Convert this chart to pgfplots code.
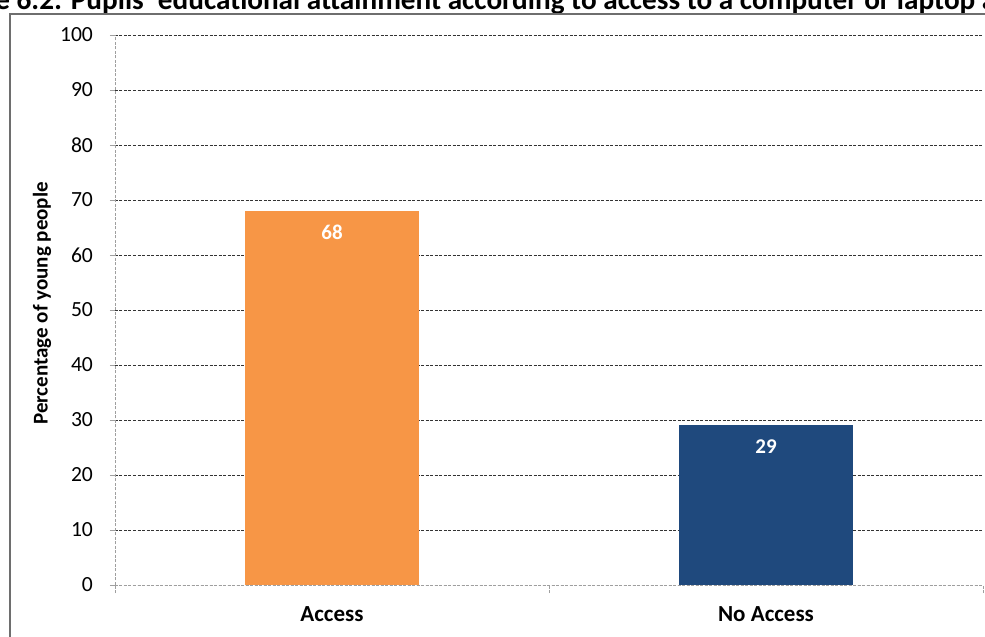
\documentclass[border=0pt]{standalone}
\usepackage{pgfplots}
\pgfplotsset{compat=1.18}
\usepackage{fontspec}
\setmainfont{Carlito}
\definecolor{barorange}{HTML}{F79646}
\definecolor{barblue}{HTML}{1F497D}
\definecolor{framegray}{HTML}{6E6E6E}
\begin{document}
\begin{tikzpicture}
\useasboundingbox (0,0) rectangle (492.5pt,318.5pt);
\clip (0,0) rectangle (492.5pt,318.5pt);
\node[anchor=base west, inner sep=0pt, font=\bfseries\fontsize{14.6}{17}\selectfont] at (-2.5pt,313.5pt)
  {\llap{Figur}e 6.2: Pupils' educational attainment according to access to a computer or laptop at home};
\draw[framegray, line width=1pt] (4.75pt,-10pt) -- (4.75pt,311.5pt) -- (520pt,311.5pt);
\begin{axis}[
  at={(57.5pt,26pt)}, anchor=south west,
  scale only axis, width=434pt, height=275pt,
  xmin=0, xmax=2, ymin=0, ymax=100,
  axis x line*=bottom, axis y line*=left,
  axis line style={gray!75, dash pattern=on 1.5pt off 0.75pt, line width=0.45pt, -},
  ytick={0,10,...,100},
  ymajorgrids,
  major grid style={black!80, dash pattern=on 1.5pt off 0.75pt, line width=0.45pt},
  xtick={0.5,1.5},
  xticklabels={Access, No Access},
  major x tick style={draw=none},
  minor xtick={0,1,2},
  minor x tick style={gray!75, dash pattern=on 1.5pt off 0.75pt, line width=0.45pt},
  minor tick length=4pt,
  major tick length=2.5pt,
  y tick style={gray!75, line width=0.45pt},
  tick align=outside,
  /pgf/number format/assume math mode=true,
  yticklabel style={font=\fontsize{10.8}{12}\selectfont, xshift=-5pt},
  xticklabel style={font=\bfseries\fontsize{11.5}{13}\selectfont, yshift=-5pt},
  ylabel={Percentage of young people},
  ylabel style={font=\bfseries\fontsize{10.5}{12}\selectfont, at={(axis description cs:-0.0841,0.512)}, anchor=center},
  ybar, bar width=87pt,
  nodes near coords,
  every node near coord/.append style={anchor=center, yshift=-10.5pt, white, font=\bfseries\fontsize{10.5}{12}\selectfont},
]
\addplot[fill=barorange, draw=none, bar shift=0pt] coordinates {(0.5,68)};
\addplot[fill=barblue, draw=none, bar shift=0pt] coordinates {(1.5,29)};
\end{axis}
\end{tikzpicture}
\end{document}
